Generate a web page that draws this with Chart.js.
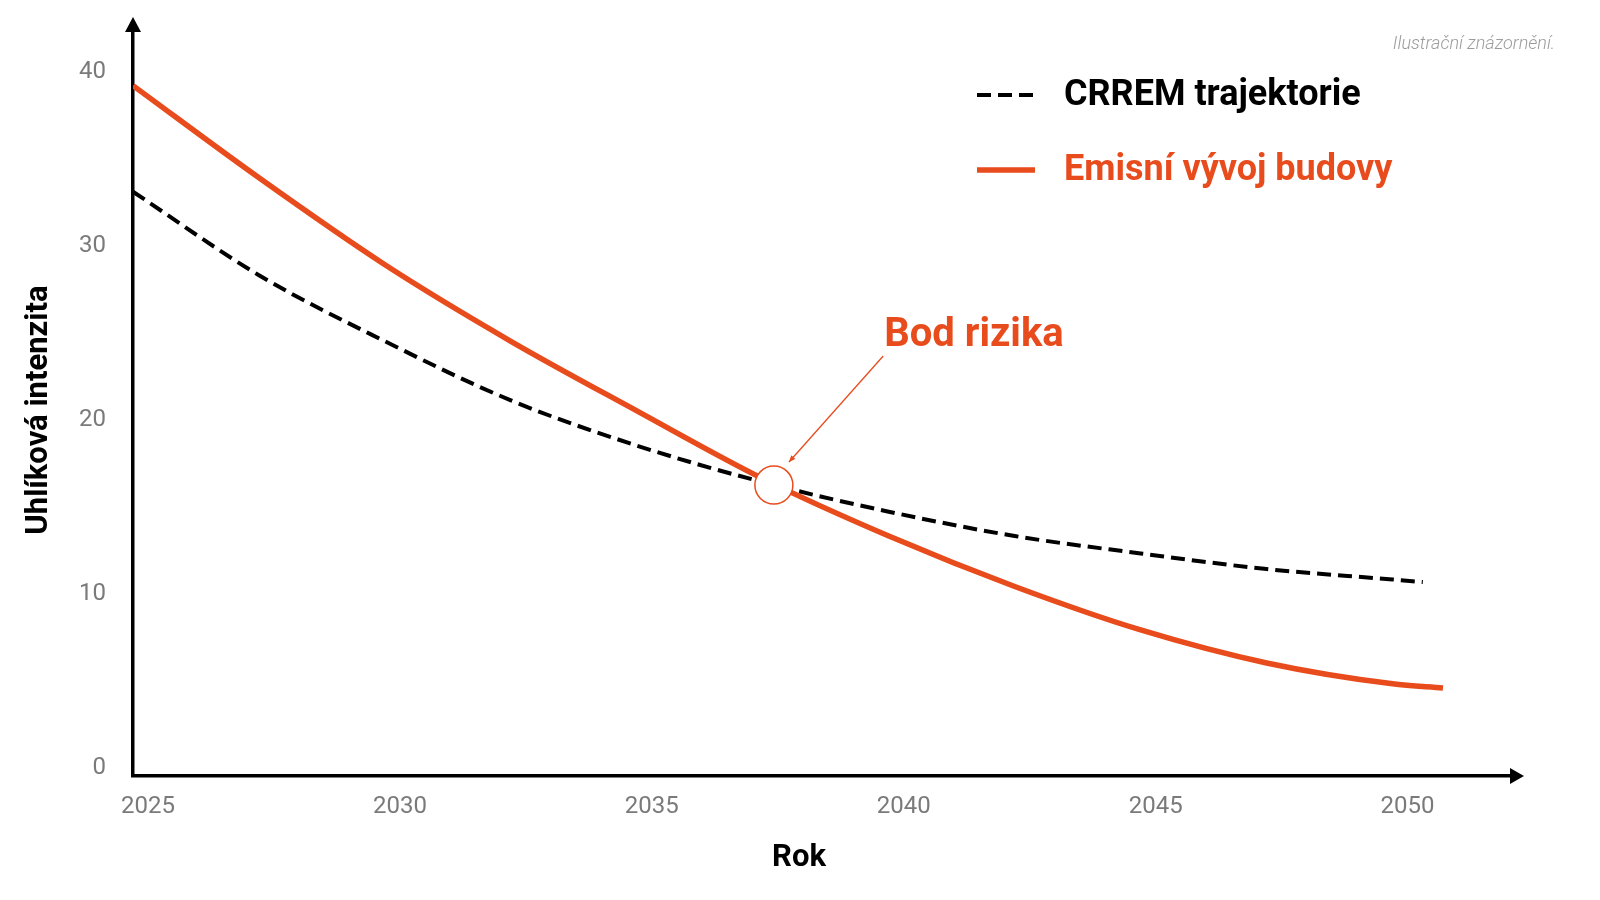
<!DOCTYPE html>
<html>
<head>
<meta charset="utf-8">
<script src="https://cdn.jsdelivr.net/npm/chart.js@4/dist/chart.umd.min.js"></script>
<style>
  html, body { margin: 0; padding: 0; background: #ffffff; }
  #wrap { width: 1600px; height: 900px; }
</style>
</head>
<body>
<div id="wrap"><canvas id="chart" width="1600" height="900"></canvas></div>
<script>
// ---- data ----
const crremYears   = [2025, 2027.5, 2030, 2032.5, 2035, 2037.5, 2040, 2042.5, 2045, 2047.5, 2050, 2050.6];
const crremValues  = [33.6, 28.8, 25.0, 21.6, 19.0, 16.9, 15.2, 13.8, 12.8, 11.9, 11.3, 11.15];
const buildingYears  = [2025, 2027.5, 2030, 2032.5, 2035, 2037.5, 2040, 2042.5, 2045, 2047.5, 2050, 2051];
const buildingValues = [39.7, 34.4, 29.4, 25.0, 21.0, 17.1, 13.8, 10.9, 8.4, 6.5, 5.3, 5.06];
const riskYear  = 2037.72;
const riskValue = 16.73;
const xTickValues = [2025, 2030, 2035, 2040, 2045, 2050];
const yTickValues = [0, 10, 20, 30, 40];
const seriesLabels = ['CRREM trajektorie', 'Emisní vývoj budovy'];
const xAxisTitle = 'Rok';
const yAxisTitle = 'Uhlíková intenzita';
const riskLabel = 'Bod rizika';
const riskLabelAt = [2039.91, 25.3];
const riskArrowFrom = [2039.89, 24.15];
const riskArrowTo = [2038.02, 18.06];
const noteText = 'Ilustrační znázornění.';

// ---- styles ----
const RED = '#E84B1C';
const FONT = 'Roboto, "Open Sans", sans-serif';

const toPoints = (xs, ys) => xs.map((x, i) => ({ x: x, y: ys[i] }));

const decorations = {
  id: 'decorations',
  afterDraw(chart) {
    const { ctx, chartArea: a, scales } = chart;
    const xs = scales.x, ys = scales.y;
    ctx.save();

    // axis arrowheads
    ctx.fillStyle = '#000';
    ctx.beginPath();
    ctx.moveTo(a.left, a.top - 13);
    ctx.lineTo(a.left - 8, a.top + 2);
    ctx.lineTo(a.left + 8, a.top + 2);
    ctx.closePath();
    ctx.fill();
    ctx.beginPath();
    ctx.moveTo(a.right + 12, a.bottom);
    ctx.lineTo(a.right - 2, a.bottom - 8);
    ctx.lineTo(a.right - 2, a.bottom + 8);
    ctx.closePath();
    ctx.fill();

    // axis titles
    ctx.fillStyle = '#000';
    ctx.font = 'bold 31px ' + FONT;
    ctx.textAlign = 'center';
    ctx.textBaseline = 'middle';
    ctx.fillText(xAxisTitle, 799, 858);
    ctx.save();
    ctx.translate(39, 410);
    ctx.rotate(-Math.PI / 2);
    ctx.fillText(yAxisTitle, 0, 0);
    ctx.restore();

    // note
    ctx.font = 'italic 300 18px ' + FONT;
    ctx.fillStyle = '#9c9c9c';
    ctx.textAlign = 'right';
    ctx.fillText(noteText, 1555, 44);

    // legend
    const legendDs = chart.data.datasets.filter(d => d.inLegend)
      .sort((p, q) => p.legendIndex - q.legendIndex);
    legendDs.forEach((d, i) => {
      const yy = 95 + i * 75;
      ctx.save();
      ctx.strokeStyle = d.borderColor;
      ctx.lineWidth = d.borderWidth;
      ctx.setLineDash(d.borderDash || []);
      ctx.beginPath();
      ctx.moveTo(977, yy);
      ctx.lineTo(1035, yy);
      ctx.stroke();
      ctx.restore();
      ctx.font = 'bold 36px ' + FONT;
      ctx.fillStyle = d.legendTextColor;
      ctx.textAlign = 'left';
      ctx.textBaseline = 'middle';
      ctx.fillText(d.label, 1064, yy + 1);
    });

    // risk annotation
    ctx.font = 'bold 40px ' + FONT;
    ctx.fillStyle = RED;
    ctx.textAlign = 'left';
    ctx.textBaseline = 'middle';
    ctx.fillText(riskLabel, xs.getPixelForValue(riskLabelAt[0]), ys.getPixelForValue(riskLabelAt[1]));
    const x1 = xs.getPixelForValue(riskArrowFrom[0]), y1 = ys.getPixelForValue(riskArrowFrom[1]);
    const x2 = xs.getPixelForValue(riskArrowTo[0]), y2 = ys.getPixelForValue(riskArrowTo[1]);
    ctx.strokeStyle = RED;
    ctx.lineWidth = 1.3;
    ctx.beginPath();
    ctx.moveTo(x1, y1);
    ctx.lineTo(x2, y2);
    ctx.stroke();
    const ang = Math.atan2(y2 - y1, x2 - x1);
    ctx.beginPath();
    ctx.moveTo(x2, y2);
    ctx.lineTo(x2 - 7 * Math.cos(ang - 0.4), y2 - 7 * Math.sin(ang - 0.4));
    ctx.lineTo(x2 - 7 * Math.cos(ang + 0.4), y2 - 7 * Math.sin(ang + 0.4));
    ctx.closePath();
    ctx.fillStyle = RED;
    ctx.fill();

    ctx.restore();
  }
};

new Chart(document.getElementById('chart'), {
  type: 'line',
  data: {
    datasets: [
      {
        label: riskLabel,
        data: [{ x: riskYear, y: riskValue }],
        showLine: false,
        pointRadius: 19,
        pointHoverRadius: 19,
        pointBackgroundColor: '#ffffff',
        pointBorderColor: RED,
        pointBorderWidth: 1.5,
        order: 0,
        clip: false
      },
      {
        label: seriesLabels[1],
        data: toPoints(buildingYears, buildingValues),
        borderColor: RED,
        borderWidth: 5.5,
        pointRadius: 0,
        cubicInterpolationMode: 'monotone',
        fill: false,
        order: 1,
        inLegend: true,
        legendTextColor: RED,
        legendIndex: 1
      },
      {
        label: seriesLabels[0],
        data: toPoints(crremYears, crremValues),
        borderColor: '#000000',
        borderWidth: 4,
        borderDash: [14, 7],
        pointRadius: 0,
        cubicInterpolationMode: 'monotone',
        fill: false,
        order: 2,
        inLegend: true,
        legendTextColor: '#000000',
        legendIndex: 0
      }
    ]
  },
  options: {
    responsive: false,
    devicePixelRatio: 1,
    animation: false,
    events: [],
    layout: { padding: { top: 30, right: 88, bottom: 0, left: 0 } },
    plugins: {
      legend: { display: false },
      tooltip: { enabled: false }
    },
    scales: {
      x: {
        type: 'linear',
        min: 2025,
        max: 2052.37,
        afterBuildTicks: (s) => { s.ticks = xTickValues.map(v => ({ value: v })); },
        afterFit: (s) => { s.height = 124; s.paddingLeft = 0; s.paddingRight = 0; },
        grid: { display: false, drawTicks: false },
        border: { display: true, color: '#000', width: 3.5 },
        ticks: {
          padding: 17,
          labelOffset: 15,
          color: '#7a7a7a',
          font: { family: FONT, size: 24, weight: '400' },
          callback: (v) => String(v)
        }
      },
      y: {
        type: 'linear',
        min: 0,
        max: 42.9,
        afterBuildTicks: (s) => { s.ticks = yTickValues.map(v => ({ value: v })); },
        afterFit: (s) => { s.width = 133; s.paddingTop = 0; s.paddingBottom = 0; },
        grid: { display: false, drawTicks: false },
        border: { display: true, color: '#000', width: 3.5 },
        ticks: {
          padding: 27,
          labelOffset: -8,
          color: '#7a7a7a',
          font: { family: FONT, size: 24, weight: '400' },
          callback: (v) => String(v)
        }
      }
    }
  },
  plugins: [decorations]
});
</script>
</body>
</html>
